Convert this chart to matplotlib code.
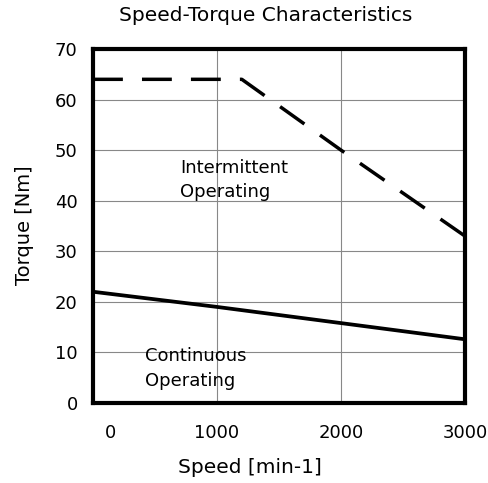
import matplotlib
matplotlib.use("Agg")
import matplotlib.pyplot as plt
from matplotlib.transforms import ScaledTranslation

# data
speed_cont = [0, 1000, 2000, 3000]
torque_cont = [22.0, 19.0, 15.8, 12.6]
speed_int = [0, 1200, 2000, 3000]
torque_int = [64.0, 64.0, 50.0, 33.0]
xticks = [0, 1000, 2000, 3000]
yticks = [0, 10, 20, 30, 40, 50, 60, 70]

fig = plt.figure(figsize=(4.88, 4.83), dpi=100)
ax = fig.add_axes([0.1906, 0.1656, 0.7623, 0.733])

ax.plot(speed_cont, torque_cont, color="black", lw=2.7, solid_capstyle="butt")
ax.plot(speed_int, torque_int, color="black", lw=2.5, dashes=(8.6, 5.5))

ax.set_xlim(0, 3000)
ax.set_ylim(0, 70)
ax.set_xticks(xticks)
ax.set_yticks(yticks)
ax.grid(True, color="#888888", lw=0.8)
ax.set_axisbelow(True)
for s in ax.spines.values():
    s.set_linewidth(3)
ax.tick_params(length=0, labelsize=13)
ax.tick_params(axis="y", pad=11)
ax.tick_params(axis="x", pad=15)

# the "0" label sits a bit right of the axis origin in the reference
lbl = ax.get_xticklabels()[0]
lbl.set_transform(lbl.get_transform() + ScaledTranslation(0.17, 0, fig.dpi_scale_trans))

ax.text(702, 48.3, "Intermittent\nOperating", fontsize=13, va="top", linespacing=1.45)
ax.text(419, 11.0, "Continuous\nOperating", fontsize=13, va="top", linespacing=1.45)

fig.text(0.545, 0.968, "Speed-Torque Characteristics", ha="center", va="center", fontsize=14.5)
fig.text(0.512, 0.032, "Speed [min-1]", ha="center", va="center", fontsize=14.5)
fig.text(0.05, 0.533, "Torque [Nm]", ha="center", va="center", rotation=90, fontsize=14)

fig.savefig("out.png", dpi=100)
